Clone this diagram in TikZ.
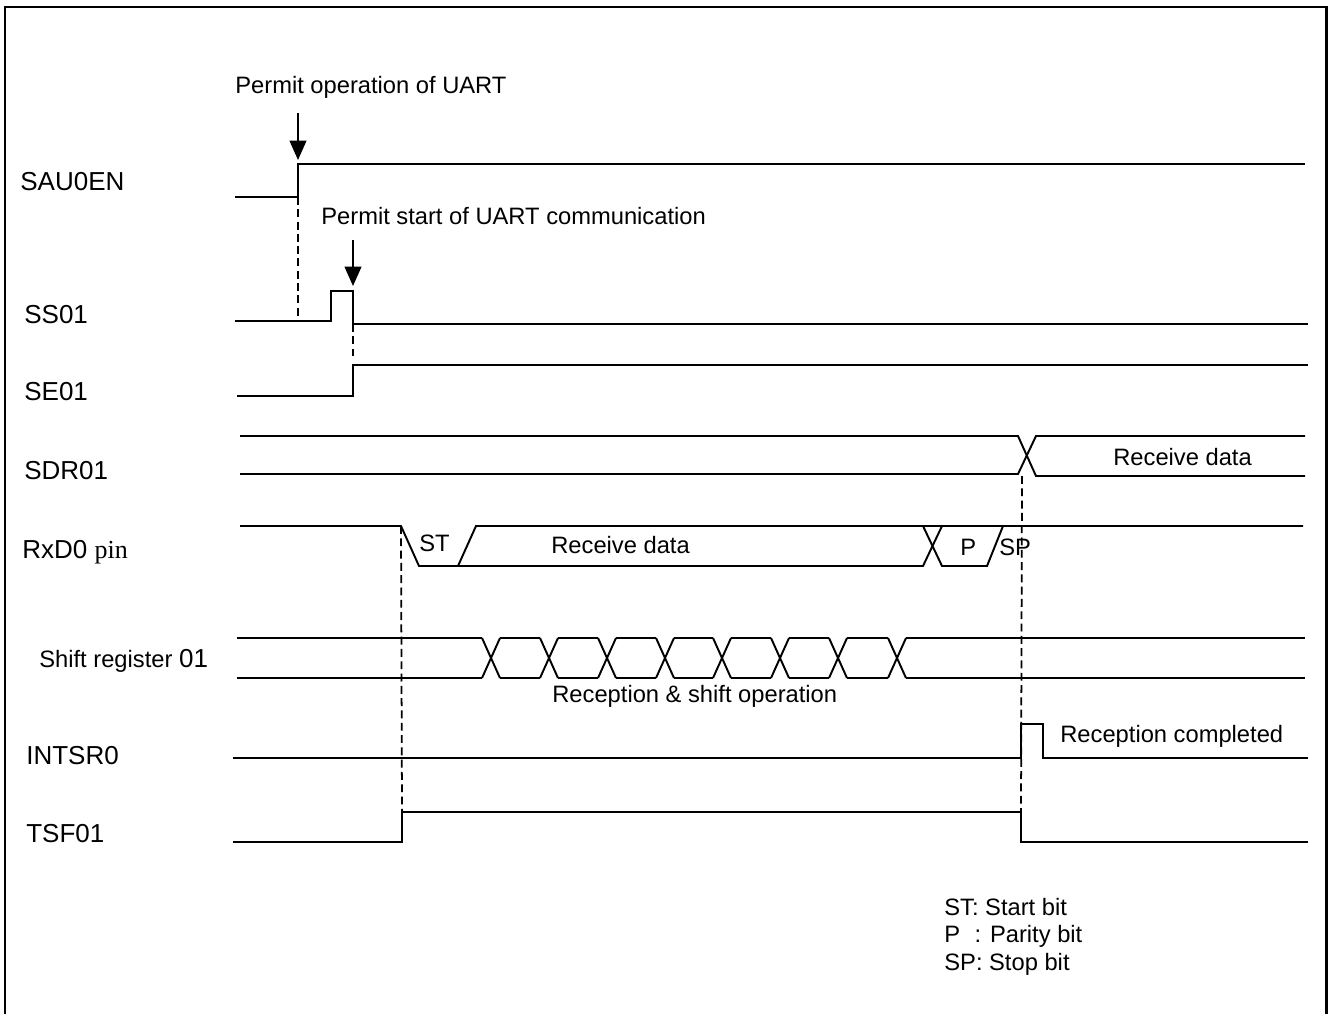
\documentclass[tikz,border=0pt]{standalone}
\usepackage{fontspec}
\setmainfont{Liberation Sans}
\newfontfamily\pinfont{Liberation Serif}
\usetikzlibrary{arrows.meta}

\begin{document}
\begin{tikzpicture}[x=0.02cm, y=-0.02cm, line join=miter,
    font=\fontsize{13.5}{16}\selectfont,
    wave/.style={line width=1.1pt},
    guide/.style={line width=1pt, dash pattern=on 4.5pt off 2.5pt},
    pointer/.style={line width=1.1pt, -{Triangle[length=11pt, width=9.5pt]}},
    sig/.style={anchor=base west, inner sep=0pt, font=\fontsize{14.8}{17}\selectfont},
    note/.style={anchor=base west, inner sep=0pt}]
    \useasboundingbox (0,0) rectangle (1328,1014);

    % 外框 (底边在图外)
    \draw[line width=1.7pt] (5,1014) -- (5,7) -- (1326,7) -- (1326,1014);

    % 信号名称
    \node[sig] (nSAU) at (20,190) {SAU0EN};
    \node[sig] (nSS)  at (24,323) {SS01};
    \node[sig] (nSE)  at (24,400) {SE01};
    \node[sig] (nSDR) at (24,479) {SDR01};
    \node[sig] (nRxD) at (22,558) {RxD0 {\pinfont pin}};
    \node[sig, font=\fontsize{13.5}{16}\selectfont] (nSR) at (39,667) {Shift register {\fontsize{14.8}{17}\selectfont 01}};
    \node[sig] (nINT) at (26,764) {INTSR0};
    \node[sig] (nTSF) at (26,842) {TSF01};

    % 1. SAU0EN 上升沿
    \coordinate (sauLow)  at (298,197);
    \coordinate (sauHigh) at (298,164);
    \draw[wave] (235,197) -- (sauLow) -- (sauHigh) -- (1305,164);
    \node[note] (tOp) at (235,93) {Permit operation of UART};
    \coordinate (arrOpTop) at (298,113);
    \coordinate (arrOpTip) at (298,160);
    \draw[pointer] (arrOpTop) -- (arrOpTip);

    % 2. SS01 脉冲
    \coordinate (ssRise) at (331,321);
    \coordinate (ssFall) at (353,291);
    \coordinate (ssEnd)  at (353,324);
    \draw[wave] (235,321) -- (ssRise) -- (331,291) -- (ssFall) -- (ssEnd) -- (1308,324);
    \node[note] (tStart) at (321,224) {Permit start of UART communication};
    \coordinate (arrStTop) at (353,240);
    \coordinate (arrStTip) at (353,286);
    \draw[pointer] (arrStTop) -- (arrStTip);
    \draw[guide] (sauLow) -- (298,316);

    % 3. SE01
    \coordinate (seLow)  at (353,396);
    \coordinate (seHigh) at (353,365);
    \draw[guide] (ssEnd) -- (353,356);
    \draw[wave] (237,396) -- (seLow) -- (seHigh) -- (1308,365);

    % 4. SDR01 总线
    \draw[wave] (240,436) -- (1018,436) -- (1036,476) -- (1305,476);
    \draw[wave] (240,474) -- (1018,474) -- (1036,436) -- (1305,436);
    \node[note] (tSdr) at (1113,465) {Receive data};

    % 5. RxD0 引脚
    \draw[wave] (240,526) -- (401,526) -- (419,566) -- (923,566) -- (942,526);
    \draw[wave] (923,526) -- (942,566) -- (987,566) -- (1003,526);
    \draw[wave] (458,566) -- (476,526) -- (1303,526);
    \node[note] (tST) at (419,551) {ST};
    \node[note] (tRx) at (551,553) {Receive data};
    \node[note] (tP)  at (960,555) {P};
    \node[note] (tSP) at (999,555) {SP};

    % 6. 移位寄存器
    \foreach \a/\b in {237/482, 500/540, 558/598, 616/656, 674/713, 731/771, 789/829, 847/888, 906/1305}
        \draw[wave] (\a,638) -- (\b,638) (\a,678) -- (\b,678);
    \foreach \c in {491,549,607,665,722,780,838,897}
        \draw[wave] ({\c-9},638) -- ({\c+9},678) ({\c-9},678) -- ({\c+9},638);
    \node[note] (tShift) at (552,702) {Reception \& shift operation};

    % 7. INTSR0 中断脉冲
    \draw[wave] (233,758) -- (1021,758) -- (1021,724) -- (1043,724) -- (1043,758) -- (1308,758);
    \node[note] (tDone) at (1060,742) {Reception completed};

    % 8. TSF01
    \coordinate (tsfRise) at (402,812);
    \coordinate (tsfFall) at (1021,812);
    \draw[wave] (233,842) -- (402,842) -- (tsfRise) -- (tsfFall) -- (1021,842) -- (1308,842);

    % 虚线对齐
    \draw[guide] (401,526) -- (tsfRise);
    \draw[guide] (1022,476) -- (tsfFall);

    % 图例
    \node[note] (lST) at (944,915) {ST: Start bit};
    \node[note] (lP)  at (944,942) {\rlap{P}\hphantom{ST}: Parity bit};
    \node[note] (lSP) at (944,970) {SP: Stop bit};
\end{tikzpicture}
\end{document}
